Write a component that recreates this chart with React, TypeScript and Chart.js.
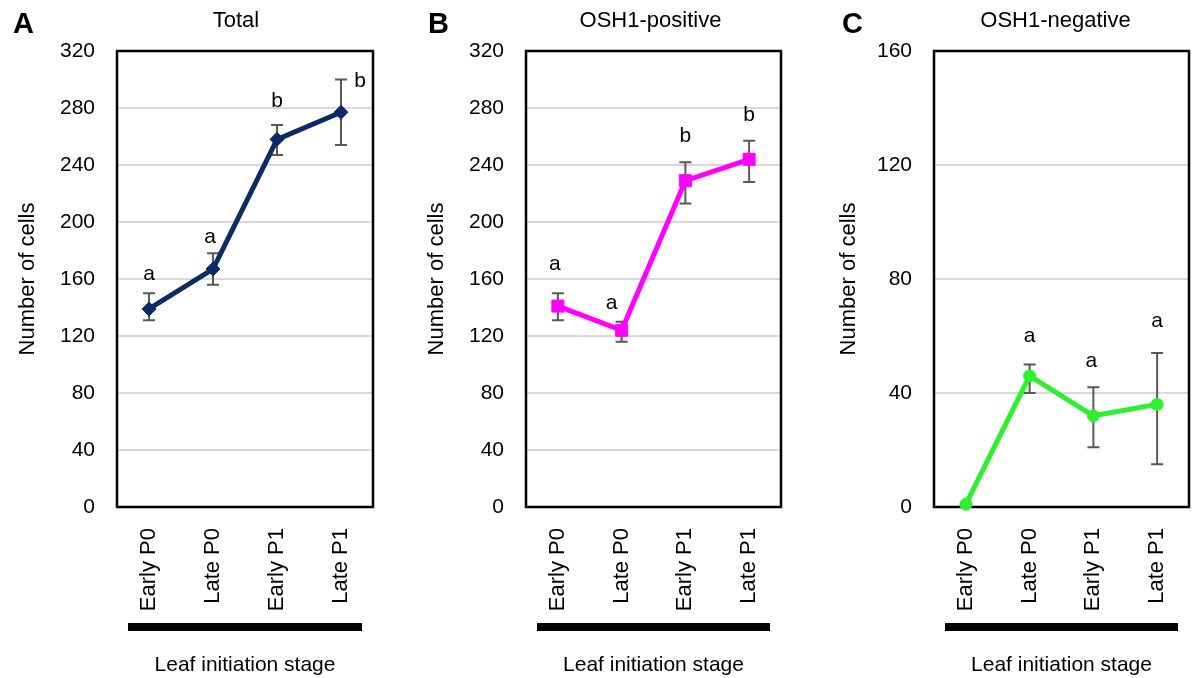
import React, { useEffect, useRef } from "react";
import { Chart, registerables } from "chart.js";

Chart.register(...registerables);

const FONT = "'Liberation Sans', Arial, Helvetica, sans-serif";

const categories = ["Early P0", "Late P0", "Early P1", "Late P1"];

const totalMean = [139, 167, 258, 277];
const totalLow = [131, 156, 247, 254];
const totalHigh = [150, 178, 268, 300];
const totalLetters = ["a", "a", "b", "b"];
const totalLetterY = [159, 185, 281, 295];
const totalLetterDx = [0, -3, 0, 19];

const posMean = [141, 124, 229, 244];
const posLow = [131, 116, 213, 228];
const posHigh = [150, 130, 242, 257];
const posLetters = ["a", "a", "b", "b"];
const posLetterY = [166, 139, 256, 271];
const posLetterDx = [-3, -10, 0, 0];

const negMean = [1, 46, 32, 36];
const negLow: (number | null)[] = [null, 40, 21, 15];
const negHigh: (number | null)[] = [null, 50, 42, 54];
const negLetters = ["", "a", "a", "a"];
const negLetterY = [0, 58, 49, 63];
const negLetterDx = [0, 0, -2, 0];

const yMaxTotal = 320;
const yMaxPos = 320;
const yMaxNeg = 160;
const yStep = 40;

const yTitle = "Number of cells";
const xTitle = "Leaf initiation stage";

type Panel = {
  letter: string;
  title: string;
  mean: number[];
  low: (number | null)[];
  high: (number | null)[];
  letters: string[];
  letterY: number[];
  letterDx: number[];
  yMax: number;
  color: string;
  pointStyle: string;
  pointRadius: number;
  left: number;
  width: number;
  padRight: number;
  letterX: number;
  titleDx: number;
  yTitlePad: number;
};

const panels: Panel[] = [
  {
    letter: "A", title: "Total", mean: totalMean, low: totalLow, high: totalHigh,
    letters: totalLetters, letterY: totalLetterY, letterDx: totalLetterDx, yMax: yMaxTotal,
    color: "#0c2a68", pointStyle: "rectRot", pointRadius: 7,
    left: 0, width: 400, padRight: 27, letterX: 13, titleDx: -9, yTitlePad: 15,
  },
  {
    letter: "B", title: "OSH1-positive", mean: posMean, low: posLow, high: posHigh,
    letters: posLetters, letterY: posLetterY, letterDx: posLetterDx, yMax: yMaxPos,
    color: "#ff00ff", pointStyle: "rect", pointRadius: 8.5,
    left: 409, width: 400, padRight: 28, letterX: 19, titleDx: -3, yTitlePad: 15,
  },
  {
    letter: "C", title: "OSH1-negative", mean: negMean, low: negLow, high: negHigh,
    letters: negLetters, letterY: negLetterY, letterDx: negLetterDx, yMax: yMaxNeg,
    color: "#2ef02e", pointStyle: "circle", pointRadius: 6,
    left: 817, width: 400, padRight: 28, letterX: 25, titleDx: -6, yTitlePad: 19,
  },
];

const H = 678;

function PanelChart({ p }: { p: Panel }) {
  const ref = useRef<HTMLCanvasElement | null>(null);
  useEffect(() => {
    if (!ref.current) return;
    const deco = {
      id: "deco",
      beforeDatasetsDraw(chart: any) {
        const { ctx, chartArea: a, scales } = chart;
        ctx.save();
        ctx.strokeStyle = "#000";
        ctx.lineWidth = 2.5;
        ctx.strokeRect(a.left, a.top, a.right - a.left, a.bottom - a.top);
        ctx.strokeStyle = "#595959";
        ctx.lineWidth = 2;
        for (let i = 0; i < categories.length; i++) {
          const lo = p.low[i];
          const hi = p.high[i];
          if (lo == null || hi == null) continue;
          const x = scales.x.getPixelForValue(i);
          const yl = scales.y.getPixelForValue(lo);
          const yh = scales.y.getPixelForValue(hi);
          ctx.beginPath();
          ctx.moveTo(x, yl);
          ctx.lineTo(x, yh);
          ctx.moveTo(x - 6, yl);
          ctx.lineTo(x + 6, yl);
          ctx.moveTo(x - 6, yh);
          ctx.lineTo(x + 6, yh);
          ctx.stroke();
        }
        ctx.restore();
      },
      afterDraw(chart: any) {
        const { ctx, chartArea: a, scales } = chart;
        ctx.save();
        ctx.fillStyle = "#000";
        ctx.textAlign = "center";
        ctx.textBaseline = "alphabetic";
        ctx.font = `21px ${FONT}`;
        for (let i = 0; i < categories.length; i++) {
          if (!p.letters[i]) continue;
          const x = scales.x.getPixelForValue(i) + p.letterDx[i];
          const y = scales.y.getPixelForValue(p.letterY[i]);
          ctx.fillText(p.letters[i], x, y);
        }
        ctx.font = `22px ${FONT}`;
        ctx.fillText(p.title, (a.left + a.right) / 2 + p.titleDx, 27);
        ctx.textAlign = "left";
        ctx.font = `bold 29px ${FONT}`;
        ctx.fillText(p.letter, p.letterX, 33);
        ctx.fillRect(a.left + 11, 623, a.right - a.left - 22, 8);
        ctx.restore();
      },
    };
    const chart = new Chart(ref.current, {
      type: "line",
      data: {
        labels: categories,
        datasets: [
          {
            data: p.mean,
            borderColor: p.color,
            backgroundColor: p.color,
            pointBackgroundColor: p.color,
            pointBorderColor: p.color,
            borderWidth: 5,
            pointStyle: p.pointStyle as any,
            pointRadius: p.pointRadius,
            pointBorderWidth: 1,
            tension: 0,
            clip: false as any,
          },
        ],
      },
      options: {
        animation: false,
        responsive: false,
        layout: { padding: { top: 51, left: 0, right: p.padRight, bottom: 0 } },
        plugins: { legend: { display: false }, tooltip: { enabled: false }, title: { display: false } },
        scales: {
          x: {
            offset: true,
            grid: { display: false, drawTicks: false },
            border: { display: false },
            ticks: {
              minRotation: 90,
              maxRotation: 90,
              padding: 21,
              color: "#000",
              font: { size: 22, family: FONT },
            },
            title: {
              display: true,
              text: xTitle,
              color: "#000",
              font: { size: 21, family: FONT },
              padding: { top: 0, bottom: 0 },
            },
            afterFit: (s: any) => { s.height = H - 507; },
          },
          y: {
            min: 0,
            max: p.yMax,
            grid: {
              drawTicks: false,
              lineWidth: 2,
              color: (c: any) => (c.tick && c.tick.value === 0 ? "rgba(0,0,0,0)" : "#d9d9d9"),
            },
            border: { display: false },
            ticks: {
              stepSize: yStep,
              padding: 22,
              color: "#000",
              font: { size: 21, family: FONT },
            },
            title: {
              display: true,
              text: yTitle,
              color: "#000",
              font: { size: 22, family: FONT },
              padding: { top: p.yTitlePad, bottom: 0 },
            },
            afterFit: (s: any) => { s.width = 117; },
          },
        },
      },
      plugins: [deco],
    });
    return () => chart.destroy();
  }, [p]);
  return (
    <canvas
      ref={ref}
      width={p.width}
      height={H}
      style={{ position: "absolute", left: p.left, top: 0, width: p.width, height: H }}
    />
  );
}

export default function App() {
  return (
    <div style={{ position: "absolute", left: 0, top: 0, width: 1192, height: H, background: "#fff", overflow: "hidden" }}>
      {panels.map((p) => (
        <PanelChart key={p.letter} p={p} />
      ))}
    </div>
  );
}
